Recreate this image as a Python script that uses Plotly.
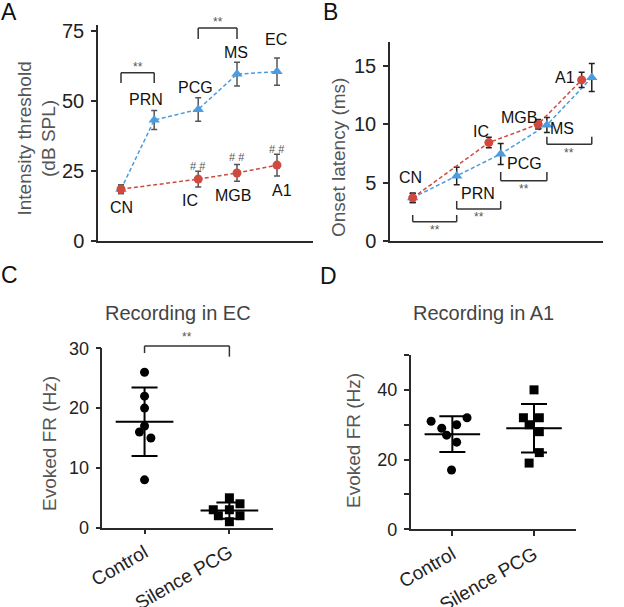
import numpy as np
import plotly.graph_objects as go

W, H = 624, 607

# ---------------- Panel A: intensity threshold ----------------
a_blue_labels = ["CN", "PRN", "PCG", "MS", "EC"]
a_blue_pos = [0, 0.83, 1.93, 2.9, 3.9]
a_blue_val = [18.5, 43.2, 47.0, 59.6, 60.5]
a_blue_err = [1.5, 3.4, 4.2, 4.2, 4.9]
a_red_labels = ["CN", "IC", "MGB", "A1"]
a_red_pos = [0, 1.93, 2.9, 3.9]
a_red_val = [18.5, 22.1, 24.3, 27.1]
a_red_err = [1.5, 2.8, 3.0, 3.9]
a_yticks = [0, 25, 50, 75]

# ---------------- Panel B: onset latency ----------------
b_blue_labels = ["CN", "PRN", "PCG", "MS", "EC"]
b_blue_pos = [0, 1.0, 2.0, 3.05, 4.07]
b_blue_val = [3.7, 5.57, 7.46, 9.94, 14.0]
b_blue_err = [0.4, 0.75, 0.9, 0.65, 1.2]
b_red_labels = ["CN", "IC", "MGB", "A1"]
b_red_pos = [0, 1.73, 2.85, 3.84]
b_red_val = [3.7, 8.43, 10.0, 13.8]
b_red_err = [0.4, 0.45, 0.4, 0.65]
b_yticks = [0, 5, 10, 15]

# ---------------- Panels C / D: evoked FR ----------------
groups = ["Control", "Silence PCG"]
c_control = [26, 22, 20, 17, 16, 15, 8]
c_control_jit = [0, 0, 0, 0, -0.06, 0.075, 0]
c_silence = [5, 4, 3, 3, 2, 2, 1]
c_silence_jit = [0, 0.125, -0.19, 0, -0.13, 0.125, 0]
c_yticks = [0, 10, 20, 30]

d_control = [31, 32, 29, 30, 27, 25, 17]
d_control_jit = [-0.26, 0.18, -0.13, 0.053, -0.07, 0.053, -0.01]
d_silence = [40, 32, 32, 30, 28, 22, 19]
d_silence_jit = [0, -0.13, 0.065, -0.06, 0.065, 0.065, -0.06]
d_yticks = [0, 10, 20, 30, 40, 50]
d_yticklabels = ["0", "", "20", "", "40", ""]

RED = "#cf4a3e"
BLUE = "#4a9be0"
FONT = "Liberation Sans"
AX = "#2a2a2a"
GRAY = "#555555"


def hx(p):
    return p / W


def vy(p):
    return 1 - p / H


# axis geometry (pixel domains) and ranges
geo = {
    "A": dict(xd=(98, 313), yd=(25.4, 241), xr=(-0.575, 4.8), yr=(0, 77)),
    "B": dict(xd=(390, 603), yd=(42, 241), xr=(-0.516, 4.325), yr=(0, 17.05)),
    "C": dict(xd=(102.3, 273), yd=(348.3, 527.7), xr=(-0.498, 1.514), yr=(0, 30)),
    "D": dict(xd=(410.7, 576), yd=(355, 529.3), xr=(-0.51, 1.514), yr=(0, 50)),
}


def to_paper(panel, x, y):
    g = geo[panel]
    x0, x1 = hx(g["xd"][0]), hx(g["xd"][1])
    y0, y1 = vy(g["yd"][1]), vy(g["yd"][0])
    px = x0 + (x - g["xr"][0]) / (g["xr"][1] - g["xr"][0]) * (x1 - x0)
    py = y0 + (y - g["yr"][0]) / (g["yr"][1] - g["yr"][0]) * (y1 - y0)
    return px, py


fig = go.Figure()
DASH = "4px,2.5px"

# Panel A traces
fig.add_trace(go.Scatter(
    x=a_blue_pos, y=a_blue_val, mode="lines+markers", xaxis="x", yaxis="y",
    line=dict(color=BLUE, width=1.5, dash=DASH),
    marker=dict(symbol="triangle-up", size=10, color=BLUE),
    error_y=dict(type="data", array=a_blue_err, color=GRAY, thickness=1.5, width=3),
    showlegend=False, cliponaxis=False))
fig.add_trace(go.Scatter(
    x=a_red_pos, y=a_red_val, mode="lines+markers", xaxis="x", yaxis="y",
    line=dict(color=RED, width=1.5, dash=DASH),
    marker=dict(symbol="circle", size=9, color=RED),
    error_y=dict(type="data", array=a_red_err, color=GRAY, thickness=1.5, width=3),
    showlegend=False, cliponaxis=False))

# Panel B traces
fig.add_trace(go.Scatter(
    x=b_blue_pos, y=b_blue_val, mode="lines+markers", xaxis="x2", yaxis="y2",
    line=dict(color=BLUE, width=1.5, dash=DASH),
    marker=dict(symbol="triangle-up", size=10, color=BLUE),
    error_y=dict(type="data", array=b_blue_err, color="#222", thickness=1.5, width=3),
    showlegend=False, cliponaxis=False))
fig.add_trace(go.Scatter(
    x=b_red_pos, y=b_red_val, mode="lines+markers", xaxis="x2", yaxis="y2",
    line=dict(color=RED, width=1.5, dash=DASH),
    marker=dict(symbol="circle", size=9, color=RED),
    error_y=dict(type="data", array=b_red_err, color="#222", thickness=1.5, width=3),
    showlegend=False, cliponaxis=False))


def add_group(xa, ya, gi, vals, jit, symbol):
    fig.add_trace(go.Scatter(
        x=[gi + j for j in jit], y=vals, mode="markers", xaxis=xa, yaxis=ya,
        marker=dict(symbol=symbol, size=9, color="black"),
        showlegend=False, cliponaxis=False))
    m = float(np.mean(vals))
    sd = float(np.std(vals, ddof=1))
    fig.add_trace(go.Scatter(
        x=[gi - 0.34, gi + 0.34], y=[m, m], mode="lines", xaxis=xa, yaxis=ya,
        line=dict(color="black", width=2), showlegend=False, cliponaxis=False))
    fig.add_trace(go.Scatter(
        x=[gi], y=[m], mode="markers", xaxis=xa, yaxis=ya,
        marker=dict(size=1, color="rgba(0,0,0,0)"),
        error_y=dict(type="data", array=[sd], color="black", thickness=2, width=13),
        showlegend=False, cliponaxis=False))


add_group("x3", "y3", 0, c_control, c_control_jit, "circle")
add_group("x3", "y3", 1, c_silence, c_silence_jit, "square")
add_group("x4", "y4", 0, d_control, d_control_jit, "circle")
add_group("x4", "y4", 1, d_silence, d_silence_jit, "square")

# ---------------- axes ----------------
tickfont_big = dict(family=FONT, size=20, color="#222")
tickfont_mid = dict(family=FONT, size=18, color="#222")
tickfont_cat = dict(family=FONT, size=19, color="#222")


def yax(panel, tickvals, ticktext, font):
    g = geo[panel]
    return dict(domain=[vy(g["yd"][1]), vy(g["yd"][0])], range=list(g["yr"]),
                showline=True, linecolor=AX, linewidth=1.5, ticks="outside",
                ticklen=5, tickwidth=1.5, tickcolor=AX, tickvals=tickvals,
                ticktext=ticktext, tickfont=font, ticklabelstandoff=3,
                showgrid=False, zeroline=False)


def xax(panel, anchor, **kw):
    g = geo[panel]
    d = dict(domain=[hx(g["xd"][0]), hx(g["xd"][1])], range=list(g["xr"]),
             anchor=anchor, showline=True, linecolor=AX, linewidth=1.5,
             showgrid=False, zeroline=False)
    d.update(kw)
    return d


fig.update_layout(
    width=W, height=H, margin=dict(l=0, r=0, t=0, b=0, autoexpand=False),
    paper_bgcolor="white", plot_bgcolor="white",
    font=dict(family=FONT),
    xaxis=xax("A", "y", showticklabels=False, ticks=""),
    yaxis=dict(yax("A", a_yticks, [str(v) for v in a_yticks], tickfont_big), anchor="x"),
    xaxis2=xax("B", "y2", showticklabels=False, ticks=""),
    yaxis2=dict(yax("B", b_yticks, [str(v) for v in b_yticks], tickfont_big), anchor="x2"),
    xaxis3=xax("C", "y3", tickvals=[0, 1], ticktext=groups, ticks="outside",
               ticklen=5, tickwidth=1.5, tickcolor=AX, tickangle=-30,
               tickfont=tickfont_cat),
    yaxis3=dict(yax("C", c_yticks, [str(v) for v in c_yticks], tickfont_mid), anchor="x3"),
    xaxis4=xax("D", "y4", tickvals=[0, 1], ticktext=groups, ticks="outside",
               ticklen=5, tickwidth=1.5, tickcolor=AX, tickangle=-30,
               tickfont=tickfont_cat),
    yaxis4=dict(yax("D", d_yticks, d_yticklabels, tickfont_mid), anchor="x4"),
)

ann = []
shapes = []
LBL = dict(family=FONT, size=16, color="#111")
CM = dict(xanchor="center", yanchor="middle", showarrow=False)

# Panel A point labels
a_label_xy = {
    "CN": (0, 11.8), "PRN": (0.63, 50.4), "PCG": (1.85, 55.0), "MS": (2.88, 67.5),
    "EC": (3.88, 71.8), "IC": (1.73, 14.6), "MGB": (2.8, 16.1), "A1": (4.03, 18.2),
}
for t, (x, y) in a_label_xy.items():
    ann.append(dict(x=x, y=y, xref="x", yref="y", text=t, font=LBL, **CM))
for x, y in zip(a_red_pos[1:], [26.8, 30.0, 33.0]):
    ann.append(dict(x=x, y=y, xref="x", yref="y", text="# #",
                    font=dict(family=FONT, size=11, color=GRAY), **CM))

# Panel B point labels
b_label_xy = {
    "CN": (-0.06, 5.48), "PRN": (1.48, 4.11), "IC": (1.55, 9.34), "PCG": (2.55, 6.68),
    "MGB": (2.42, 10.54), "MS": (3.39, 9.68), "A1": (3.46, 14.05), "EC": (4.55, 13.28),
}
for t, (x, y) in b_label_xy.items():
    ann.append(dict(x=x, y=y, xref="x2", yref="y2", text=t, font=LBL, **CM))


def bracket(panel, xa, xb, ytop, yleg_a, yleg_b, ystar):
    pa = to_paper(panel, xa, ytop)
    pb = to_paper(panel, xb, ytop)
    la = to_paper(panel, xa, yleg_a)
    lb = to_paper(panel, xb, yleg_b)
    st = to_paper(panel, (xa + xb) / 2, ystar)
    ln = dict(color="#333", width=1.5)
    shapes.append(dict(type="line", xref="paper", yref="paper", x0=pa[0], y0=pa[1],
                       x1=pb[0], y1=pb[1], line=ln))
    shapes.append(dict(type="line", xref="paper", yref="paper", x0=la[0], y0=la[1],
                       x1=pa[0], y1=pa[1], line=ln))
    shapes.append(dict(type="line", xref="paper", yref="paper", x0=lb[0], y0=lb[1],
                       x1=pb[0], y1=pb[1], line=ln))
    ann.append(dict(x=st[0], y=st[1], xref="paper", yref="paper", text="**",
                    font=dict(family=FONT, size=12, color=GRAY), **CM))


# A brackets (legs down)
bracket("A", a_blue_pos[0], a_blue_pos[1], 60.1, 56.4, 56.4, 62.3)
bracket("A", a_blue_pos[2], a_blue_pos[3], 76.1, 72.1, 72.1, 78.3)
# B brackets (legs up)
bracket("B", b_blue_pos[0], b_blue_pos[1], 1.65, 2.23, 2.23, 0.95)
bracket("B", b_blue_pos[1], b_blue_pos[2], 2.74, 3.43, 3.43, 2.05)
bracket("B", b_blue_pos[2], b_blue_pos[3], 5.17, 5.91, 5.91, 4.45)
bracket("B", b_blue_pos[3], b_blue_pos[4], 8.29, 8.94, 8.94, 7.55)
# C bracket
bracket("C", 0, 1, 30.4, 29.2, 28.6, 31.9)

# axis titles
TT = dict(family=FONT, size=19, color=GRAY)
ann.append(dict(x=hx(36.5), y=vy(139), xref="paper", yref="paper",
                text="Intensity threshold<br>(dB SPL)", textangle=-90, font=TT, **CM))
ann.append(dict(x=hx(338), y=vy(158), xref="paper", yref="paper",
                text="Onset latency (ms)", textangle=-90, font=TT, **CM))
ann.append(dict(x=hx(49), y=vy(444), xref="paper", yref="paper",
                text="Evoked FR (Hz)", textangle=-90, font=TT, **CM))
ann.append(dict(x=hx(353), y=vy(441), xref="paper", yref="paper",
                text="Evoked FR (Hz)", textangle=-90, font=TT, **CM))
# panel titles
ann.append(dict(x=hx(178), y=vy(313), xref="paper", yref="paper",
                text="Recording in EC", font=dict(family=FONT, size=20, color="#444"), **CM))
ann.append(dict(x=hx(483), y=vy(313), xref="paper", yref="paper",
                text="Recording in A1", font=dict(family=FONT, size=20, color="#444"), **CM))
# panel letters
PL = dict(family=FONT, size=23, color="#111")
for t, (x, y) in {"A": (9, 12), "B": (330, 12), "C": (9, 275), "D": (328, 276)}.items():
    ann.append(dict(x=hx(x), y=vy(y), xref="paper", yref="paper", text=t, font=PL, **CM))

fig.update_layout(annotations=ann, shapes=shapes)
fig.write_html("out.html", config={"displayModeBar": False},
               post_script="document.body.style.margin='0px';"
                           "document.body.style.overflow='hidden';")
